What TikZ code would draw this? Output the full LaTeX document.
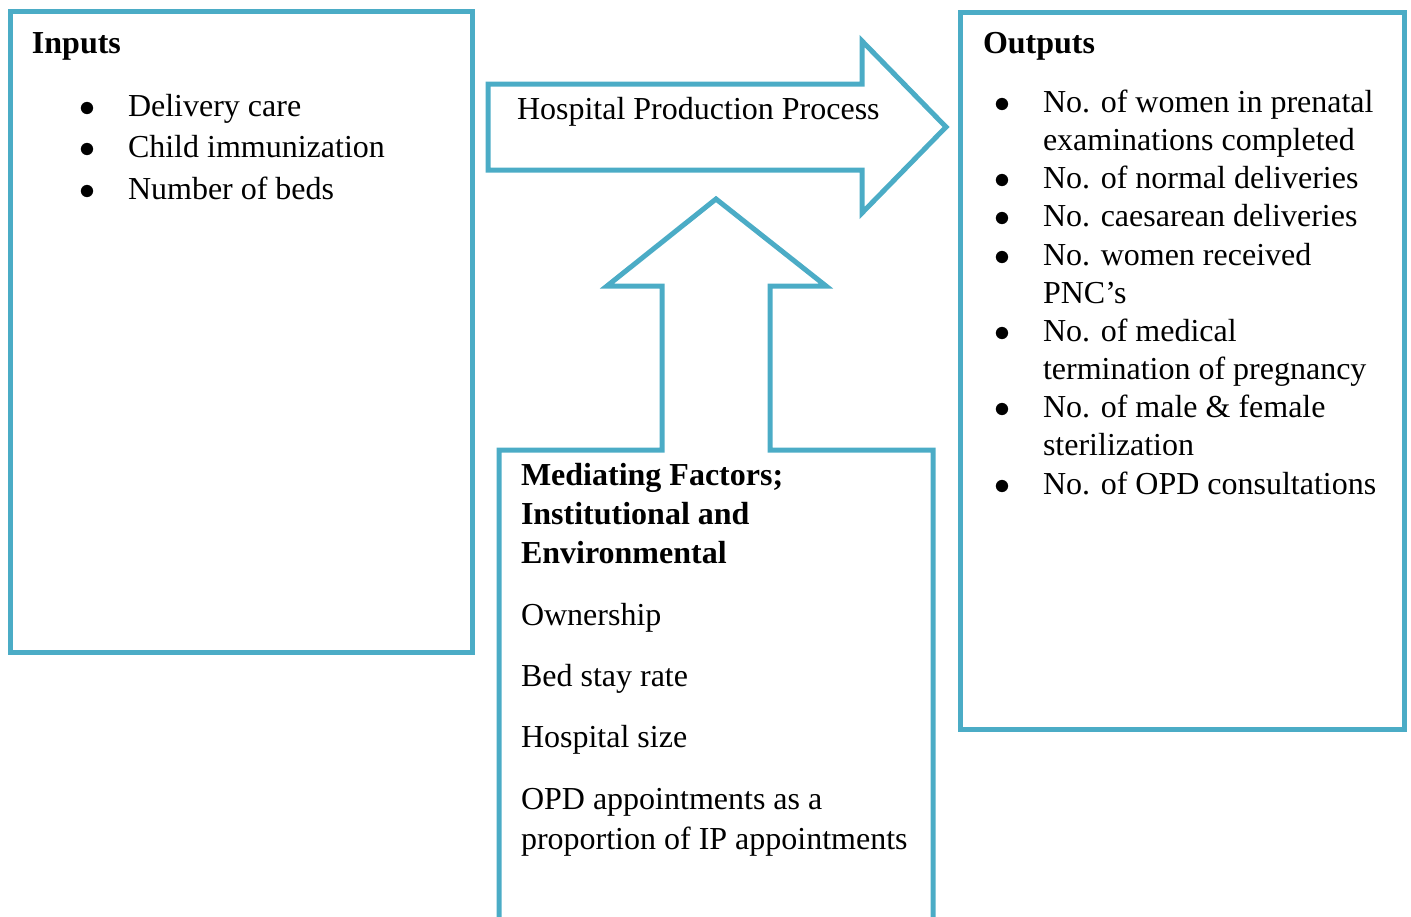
\documentclass[tikz,border=0pt]{standalone}
\usepackage{xcolor}
\usepackage{fontspec}
\setmainfont{Liberation Serif}
\usepackage{tikz}
\usetikzlibrary{
  positioning,
  calc
}
\definecolor{framecol}{HTML}{4BACC6}
\tikzset{
  frame/.style={draw=framecol,line width=1.875pt,line join=miter},
  txt/.style={anchor=base west,inner sep=0pt,outer sep=0pt,
    font=\fontsize{12}{15}\selectfont},
  title/.style={txt,font=\fontsize{12}{15}\selectfont\bfseries}
}
% bullet list as a two column table: bullet, then text
\newenvironment{blist}[1]{\fontsize{12}{#1}\selectfont
  \renewcommand{\arraystretch}{1}%
  \begin{tabular}[t]{@{}p{17.25pt}@{}l@{}}}{\end{tabular}}
% plain lines, first baseline on the node's base
\newenvironment{lines}[1]{\fontsize{12}{#1}\selectfont
  \renewcommand{\arraystretch}{1}%
  \begin{tabular}[t]{@{}l@{}}}{\end{tabular}}
\newcommand{\bul}{\hspace*{-1pt}$\bullet$}

\begin{document}
\begin{tikzpicture}[x=0.375pt,y=-0.375pt]
    \useasboundingbox (0,0) rectangle (1411,917);

    % boxes
    \draw[frame] (10,11) rectangle (472,652);
    \draw[frame] (960,12) rectangle (1404,729);
    % process arrow
    \draw[frame] (488,84) -- (862,84) -- (862,41) -- (946,127)
        -- (862,213) -- (862,170) -- (488,170) -- cycle;
    % mediating box with arrow on top (open at the bottom)
    \draw[frame] (499,925) -- (499,450) -- (662,450) -- (662,286) -- (607,286)
        -- (716,199) -- (826,286) -- (770,286) -- (770,450) -- (933,450) -- (933,925);

    % inputs
    \node[title] (intitle) at (32,53) {Inputs};
    \node[txt] (inlist) at (82,116) {\begin{blist}{15.6pt}
        \bul & Delivery care\\
        \bul & Child immunization\\
        \bul & Number of beds
      \end{blist}};

    % process
    \node[txt] (process) at (517,120) {Hospital Production Process};

    % outputs
    \node[title] (outtitle) at (983,53) {Outputs};
    \node[txt] (outlist) at (997,112.5) {\begin{blist}{14.31pt}
        \bul & No. of women in prenatal\\
             & examinations completed\\
        \bul & No. of normal deliveries\\
        \bul & No. caesarean deliveries\\
        \bul & No. women received\\
             & PNC’s\\
        \bul & No. of medical\\
             & termination of pregnancy\\
        \bul & No. of male \& female\\
             & sterilization\\
        \bul & No. of OPD consultations
      \end{blist}};

    % mediating factors
    \node[title] (medtitle) at (521,485) {\bfseries\begin{lines}{14.7pt}
        Mediating Factors;\\Institutional and\\Environmental
      \end{lines}};
    \node[txt] (medlist) at (521,625) {\begin{lines}{15pt}
        Ownership\\[8pt]
        Bed stay rate\\[8pt]
        Hospital size\\[8pt]
        OPD appointments as a\\
        proportion of IP appointments
      \end{lines}};
\end{tikzpicture}
\end{document}
